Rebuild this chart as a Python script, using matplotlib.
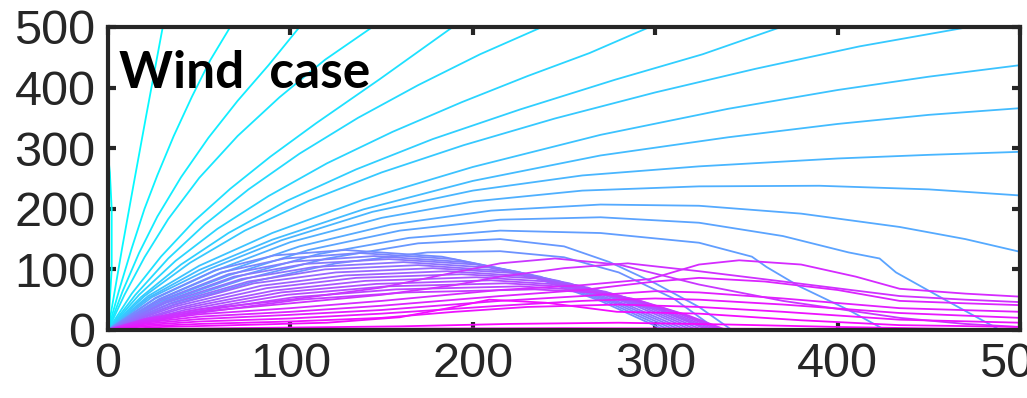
import matplotlib
matplotlib.use('Agg')
import matplotlib.pyplot as plt

# ---- trajectories, (x, y) in metres ----
# steep shots, leave through the top (one through the left side)
steep_curves = [
    [(0, 0), (2, 100), (2, 200), (1, 260), (-1, 318)],
    [(0, 0), (4, 70), (8, 140), (14, 240), (21, 355), (30, 500)],
    [(0, 0), (6, 65), (13, 135), (20, 200), (27, 255), (36, 320), (46, 385), (56, 445), (67, 500)],
    [(0, 0), (8, 64), (17, 127), (27, 187), (40, 252), (55, 317), (71, 378), (88, 437), (105, 500)],
    [(0, 0), (9, 58), (20, 120), (33, 183), (50, 251), (71, 320), (94, 384), (119, 446), (145, 500)],
    [(0, 0), (13, 60), (29, 121), (47, 179), (67, 233), (89, 286), (114, 341), (149, 414), (189, 500)],
    [(0, 0), (15, 58), (33, 118), (53, 174), (77, 232), (105, 291), (137, 350), (170, 404), (204, 455),
     (238, 500)],
    [(0, 0), (17, 58), (37, 114), (60, 167), (88, 221), (120, 275), (156, 327), (194, 376), (230, 419),
     (264, 457), (297, 500)],
    [(0, 0), (18, 54), (40, 108), (66, 160), (98, 213), (136, 265), (178, 315), (226, 364), (278, 413),
     (326, 455), (369, 500)],
    [(0, 0), (20, 56), (45, 111), (75, 164), (110, 213), (150, 260), (195, 305), (245, 349), (300, 392),
     (355, 431), (412, 468), (472, 500)],
]
# leave through the right side
far_curves = [
    [(0, 0), (22, 56), (50, 106), (90, 160), (140, 215), (200, 269), (270, 322), (340, 365), (400, 396),
     (450, 418), (500, 437)],
    [(0, 0), (22, 53), (50, 99), (90, 149), (140, 199), (200, 246), (270, 288), (340, 318), (400, 340),
     (450, 355), (500, 366)],
    [(0, 0), (24, 54), (55, 100), (95, 148), (145, 195), (200, 230), (260, 255), (324, 270), (400, 283),
     (450, 289), (500, 294)],
    [(0, 0), (26, 52), (58, 97), (100, 145), (150, 185), (200, 212), (260, 230), (324, 237), (390, 238),
     (450, 232), (500, 222)],
    [(0, 0), (28, 50), (62, 94), (105, 138), (155, 174), (210, 197), (270, 207), (324, 205), (380, 192),
     (434, 170), (470, 150), (500, 129)],
]
# come back down on the right, with the kink
kink_curves = [
    [(0, 0), (30, 48), (66, 90), (110, 132), (160, 164), (215, 182), (270, 186), (324, 177), (370, 155),
     (406, 128), (423, 118), (432, 95), (460, 48), (489, 0)],
    [(0, 0), (32, 46), (70, 87), (115, 125), (165, 152), (215, 164), (270, 160), (324, 144), (353, 121),
     (361, 104), (379, 72), (406, 33), (426, 0)],
    [(0, 0), (34, 44), (75, 84), (120, 118), (170, 143), (215, 150), (250, 138), (275, 112), (300, 77),
     (324, 38), (342, 0)],
    [(0, 0), (36, 42), (80, 80), (125, 110), (175, 128), (215, 130), (250, 120), (280, 95), (310, 52),
     (334, 0)],
]
# the purple band landing near x = 300 (higher arcs top out earlier)
band_curves = [
    [(0, 0), (26, 53), (59, 99), (91, 123), (130, 132), (183, 121), (226, 95), (270, 48), (305, 0)],
    [(0, 0), (28, 51), (62, 95), (97, 118), (138, 127), (189, 117), (232, 91), (274, 46), (308, 0)],
    [(0, 0), (29, 49), (66, 92), (102, 113), (146, 122), (196, 112), (237, 88), (278, 44), (311, 0)],
    [(0, 0), (31, 47), (69, 88), (108, 109), (154, 117), (202, 108), (242, 84), (282, 42), (314, 0)],
    [(0, 0), (32, 45), (73, 84), (113, 104), (162, 112), (209, 103), (247, 81), (286, 40), (317, 0)],
    [(0, 0), (34, 43), (77, 80), (119, 100), (170, 107), (215, 98), (253, 77), (290, 39), (320, 0)],
    [(0, 0), (36, 41), (80, 77), (125, 95), (178, 102), (222, 94), (258, 73), (294, 37), (323, 0)],
    [(0, 0), (37, 39), (84, 73), (130, 90), (186, 97), (228, 89), (263, 70), (298, 35), (326, 0)],
    [(0, 0), (39, 37), (87, 69), (136, 86), (194, 92), (235, 85), (268, 66), (302, 33), (329, 0)],
    [(0, 0), (40, 35), (91, 65), (141, 81), (202, 87), (241, 80), (273, 63), (305, 31), (331, 0)],
    [(0, 0), (42, 33), (95, 62), (147, 76), (210, 82), (247, 75), (278, 59), (308, 30), (333, 0)],
    [(0, 0), (44, 31), (98, 58), (153, 72), (218, 77), (253, 71), (282, 55), (312, 28), (335, 0)],
    [(0, 0), (45, 29), (102, 54), (158, 67), (226, 72), (259, 66), (287, 52), (315, 26), (337, 0)],
    [(0, 0), (47, 27), (105, 50), (164, 62), (234, 67), (266, 62), (292, 48), (318, 24), (339, 0)],
]
# flat magenta shots carried by the wind
low_curves = [
    [(0, 0), (20, 18), (50, 34), (100, 50), (150, 70), (190, 95), (215, 110), (245, 118), (280, 108),
     (324, 75), (370, 48), (434, 20), (470, 10), (500, 5)],
    [(0, 0), (20, 16), (50, 30), (100, 44), (150, 58), (190, 74), (215, 88), (250, 102), (285, 110),
     (324, 97), (370, 80), (434, 56), (470, 50), (500, 46)],
    [(0, 0), (20, 14), (50, 26), (100, 36), (150, 48), (215, 66), (260, 74), (297, 84), (324, 108),
     (346, 115), (380, 108), (410, 88), (434, 68), (470, 60), (500, 55)],
    [(0, 0), (20, 12), (50, 22), (100, 30), (150, 40), (215, 56), (260, 66), (300, 80), (324, 86),
     (360, 80), (400, 66), (434, 48), (470, 44), (500, 41)],
    [(0, 0), (20, 10), (50, 18), (100, 25), (150, 33), (215, 48), (260, 56), (300, 64), (324, 62),
     (370, 52), (434, 36), (500, 30)],
    [(0, 0), (20, 8), (50, 14), (100, 19), (150, 27), (215, 40), (260, 48), (300, 52), (324, 50),
     (370, 42), (434, 28), (500, 20)],
    [(0, 0), (20, 6), (50, 10), (100, 14), (150, 20), (190, 30), (230, 38), (280, 42), (324, 38),
     (370, 30), (434, 17), (500, 12)],
    [(0, 0), (30, 5), (70, 8), (120, 12), (160, 21), (190, 38), (209, 50), (240, 45), (279, 30),
     (324, 27), (380, 16), (434, 8), (500, 5)],
    [(0, 0), (40, 2), (100, 4), (160, 6), (220, 10), (280, 12), (340, 9), (400, 5), (460, 2), (500, 1)],
    [(0, 0), (60, 1), (150, 2), (250, 3), (350, 2), (450, 1), (500, 0)],
]

ticks = [0, 100, 200, 300, 400, 500]
label = 'Wind  case'

# colour position in the 'cool' map, steep (cyan) -> flat (magenta)
groups = [steep_curves, far_curves, kink_curves, band_curves, low_curves]
n_all = sum(len(g) for g in groups)

fig = plt.figure(figsize=(10.27, 3.98), dpi=100)
ax = fig.add_axes([0.1052, 0.1709, 0.888, 0.7613])
cmap = plt.get_cmap('cool')

k = 0
for g in groups:
    for c in g:
        xs = [p[0] for p in c]
        ys = [p[1] for p in c]
        ax.plot(xs, ys, color=cmap(k / (n_all - 1)), lw=1.3, solid_joinstyle='round')
        k += 1

ax.set_xlim(0, 500)
ax.set_ylim(0, 500)
ax.set_xticks(ticks)
ax.set_yticks(ticks)

dark = '#262626'
for s in ax.spines.values():
    s.set_linewidth(3)
    s.set_color(dark)
ax.tick_params(direction='in', length=6, width=3, colors=dark, top=True, right=True,
               labelsize=35, pad=9)
for t in ax.get_xticklabels() + ax.get_yticklabels():
    t.set_fontfamily('Liberation Sans')

ax.text(6, 399, label, fontsize=37, fontweight='bold', family='Lato', color='black')

fig.savefig('out.png', dpi=100)
